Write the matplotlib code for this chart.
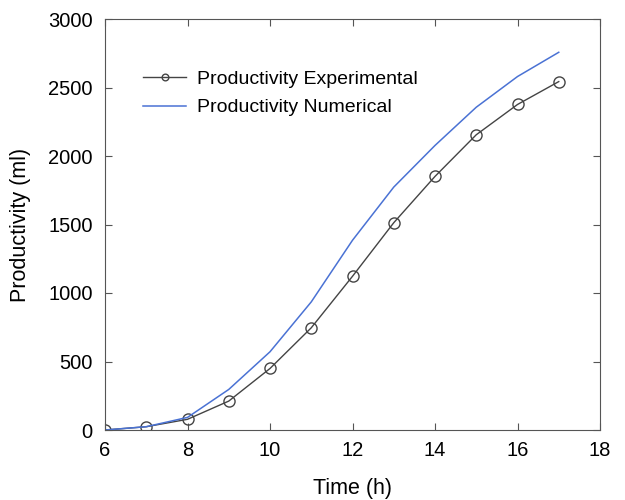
import matplotlib.pyplot as plt

plt.rcParams['font.family'] = ['Liberation Sans', 'DejaVu Sans']

time_h = [6, 7, 8, 9, 10, 11, 12, 13, 14, 15, 16, 17]
prod_experimental = [0, 24, 78, 211, 449, 746, 1122, 1513, 1851, 2155, 2376, 2543]
prod_numerical = [0, 24, 92, 296, 571, 935, 1385, 1773, 2077, 2356, 2580, 2757]

fig = plt.figure(figsize=(6.25, 5), dpi=100)
ax = fig.add_axes([105 / 625, 70 / 500, 495 / 625, 411 / 500])

ax.plot(time_h, prod_experimental, color='#444444', linewidth=1,
        marker='o', markersize=8, markerfacecolor='none', markeredgecolor='#444444',
        markeredgewidth=1, label='Productivity Experimental')
ax.plot(time_h, prod_numerical, color='#4a72d4', linewidth=1.1,
        label='Productivity Numerical')

ax.set_xlim(6, 18)
ax.set_ylim(0, 3000)
ax.set_xticks(range(6, 19, 2))
ax.set_yticks(range(0, 3001, 500))
ax.tick_params(direction='in', top=True, right=True, length=5, labelsize=14.5,
               color='#555555')
ax.tick_params(axis='x', pad=8)
ax.tick_params(axis='y', pad=9)
for s in ax.spines.values():
    s.set_color('#555555')

ax.set_xlabel('Time (h)', fontsize=15.5, labelpad=13)
ax.set_ylabel('Productivity (ml)', fontsize=15.5, labelpad=12)

leg = ax.legend(loc='upper left', bbox_to_anchor=(0.077, 0.876), frameon=False,
                fontsize=14, handlelength=2.2, handletextpad=0.57,
                borderpad=0, borderaxespad=0, markerscale=0.6, labelspacing=0.58)

fig.savefig('out.png', dpi=100)
